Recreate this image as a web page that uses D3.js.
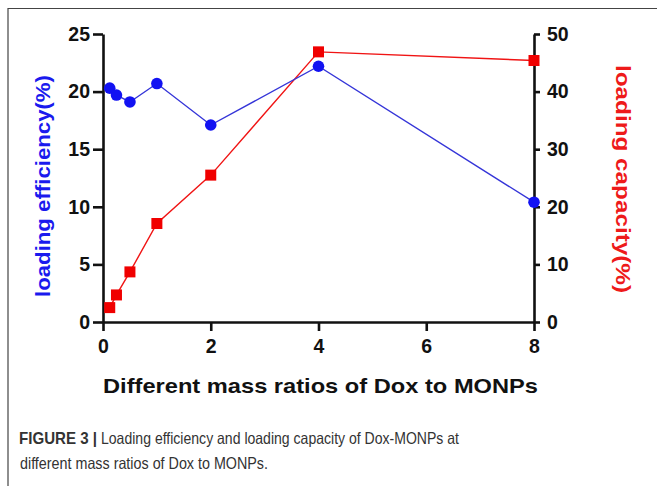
<!DOCTYPE html>
<html>
<head>
<meta charset="utf-8">
<title>Loading efficiency and capacity</title>
<script src="https://cdn.jsdelivr.net/npm/d3@7"></script>
<style>
	body {
		margin: 0;
		background: white;
	}
	svg text {
		font-family: "Liberation Sans", Arial, sans-serif;
	}
	.axis path, .axis line {
		stroke: #111;
		stroke-width: 2.6px;
	}
	.axis text {
		font-size: 19.5px;
		font-weight: bold;
		fill: #111;
	}
	.caption {
		font-family: "Liberation Sans Narrow", "Liberation Sans", sans-serif;
		font-size: 16.5px;
		fill: #333;
	}
</style>
</head>
<body>
<svg id="chart" width="657" height="486"></svg>

<script>
	// mass ratio Dox : MONPs
	var ratios = [0.125, 0.25, 0.5, 1, 2, 4, 8];
	// loading efficiency (%), left axis
	var efficiency = [20.3, 19.7, 19.1, 20.7, 17.1, 22.2, 10.4];
	// loading capacity (%), right axis
	var capacity = [2.5, 4.7, 8.7, 17.1, 25.5, 46.9, 45.4];

	var xTicks = [0, 2, 4, 6, 8],
		effTicks = [0, 5, 10, 15, 20, 25],
		capTicks = [0, 10, 20, 30, 40, 50];

	var plotLeft = 103, plotRight = 534, plotTop = 34, plotBottom = 322;

	var svg = d3.select("#chart");

	// frame lines (top and left only)
	svg.append("path")
		.attr("d", "M8,486 V8.5 H657")
		.attr("fill", "none")
		.attr("stroke", "#444")
		.attr("stroke-width", 1.2);

	var x = d3.scaleLinear().domain([0, 8]).range([plotLeft, plotRight]);
	var yL = d3.scaleLinear().domain([0, 25]).range([plotBottom, plotTop]);
	var yR = d3.scaleLinear().domain([0, 50]).range([plotBottom, plotTop]);

	svg.append("g")
		.attr("class", "axis")
		.attr("transform", "translate(0," + plotBottom + ")")
		.call(d3.axisBottom(x).tickValues(xTicks).tickSize(9).tickPadding(8).tickSizeOuter(0))
		.selectAll("text").attr("dy", "0.72em");

	svg.append("g")
		.attr("class", "axis")
		.attr("transform", "translate(" + plotLeft + ",0)")
		.call(d3.axisLeft(yL).tickValues(effTicks).tickSize(10).tickPadding(3).tickSizeOuter(0));

	svg.append("g")
		.attr("class", "axis")
		.attr("transform", "translate(" + plotRight + ",0)")
		.call(d3.axisRight(yR).tickValues(capTicks).tickSize(6).tickPadding(7).tickSizeOuter(0));

	var pts = ratios.map(function(r, i) {
		return { r: r, eff: efficiency[i], cap: capacity[i] };
	});

	// capacity series (red squares)
	svg.append("path")
		.datum(pts)
		.attr("fill", "none")
		.attr("stroke", "#f01414")
		.attr("stroke-width", 1.4)
		.attr("d", d3.line().x(d => x(d.r)).y(d => yR(d.cap)));

	svg.selectAll("rect.cap")
		.data(pts).enter().append("rect")
			.attr("class", "cap")
			.attr("x", d => x(d.r) - 5.5)
			.attr("y", d => yR(d.cap) - 5.5)
			.attr("width", 11)
			.attr("height", 11)
			.attr("fill", "#f00000");

	// efficiency series (blue circles)
	svg.append("path")
		.datum(pts)
		.attr("fill", "none")
		.attr("stroke", "#3535d8")
		.attr("stroke-width", 1.4)
		.attr("d", d3.line().x(d => x(d.r)).y(d => yL(d.eff)));

	svg.selectAll("circle.eff")
		.data(pts).enter().append("circle")
			.attr("class", "eff")
			.attr("cx", d => x(d.r))
			.attr("cy", d => yL(d.eff))
			.attr("r", 5.8)
			.attr("fill", "#1212f2");

	// axis titles
	svg.append("text")
		.attr("transform", "translate(50,186) rotate(-90)")
		.attr("text-anchor", "middle")
		.attr("font-size", 21)
		.attr("font-weight", "bold")
		.attr("fill", "#1a1aee")
		.attr("textLength", 222)
		.attr("lengthAdjust", "spacingAndGlyphs")
		.text("loading efficiency(%)");

	svg.append("text")
		.attr("transform", "translate(616,179) rotate(90)")
		.attr("text-anchor", "middle")
		.attr("font-size", 20.5)
		.attr("font-weight", "bold")
		.attr("fill", "#ee1a1a")
		.attr("textLength", 228)
		.attr("lengthAdjust", "spacingAndGlyphs")
		.text("loading capacity(%)");

	svg.append("text")
		.attr("x", 103)
		.attr("y", 393)
		.attr("font-size", 20.5)
		.attr("font-weight", "bold")
		.attr("fill", "#111")
		.attr("textLength", 435)
		.attr("lengthAdjust", "spacingAndGlyphs")
		.text("Different mass ratios of Dox to MONPs");

	// figure caption
	svg.append("text")
		.attr("class", "caption")
		.attr("x", 19)
		.attr("y", 444)
		.attr("font-weight", "bold")
		.attr("fill", "#222")
		.attr("textLength", 78)
		.attr("lengthAdjust", "spacingAndGlyphs")
		.text("FIGURE 3 |");

	svg.append("text")
		.attr("class", "caption")
		.attr("x", 101)
		.attr("y", 444)
		.attr("textLength", 358)
		.attr("lengthAdjust", "spacingAndGlyphs")
		.text("Loading efficiency and loading capacity of Dox-MONPs at");

	svg.append("text")
		.attr("class", "caption")
		.attr("x", 20)
		.attr("y", 469)
		.attr("textLength", 248)
		.attr("lengthAdjust", "spacingAndGlyphs")
		.text("different mass ratios of Dox to MONPs.");
</script>
</body>
</html>
